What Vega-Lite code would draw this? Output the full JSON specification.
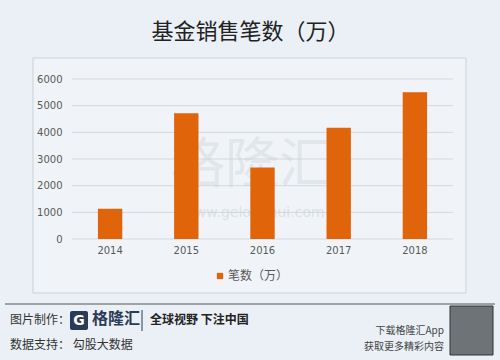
{
  "$schema": "https://vega.github.io/schema/vega-lite/v6.json",
  "width": 381,
  "height": 160,
  "autosize": {"type": "none"},
  "padding": {"left": 72, "top": 79, "right": 47, "bottom": 121},
  "background": "#EAF0F5",
  "config": {
    "view": {"stroke": null},
    "font": "Noto Sans CJK SC"
  },
  "title": {
    "text": "基金销售笔数（万）",
    "fontSize": 22,
    "fontWeight": "normal",
    "color": "#222222",
    "offset": 14,
    "dx": -12,
    "font": "Noto Sans CJK SC"
  },
  "layer": [
    {
      "data": {"values": [{}]},
      "mark": {"type": "rect", "fill": "#F0F4F8", "stroke": "#C9D1D9", "strokeWidth": 1, "clip": false},
      "encoding": {"x": {"value": -39}, "x2": {"value": 394}, "y": {"value": -21}, "y2": {"value": 214}}
    },
    {
      "data": {"values": [{"value": 0}, {"value": 1000}, {"value": 2000}, {"value": 3000}, {"value": 4000}, {"value": 5000}, {"value": 6000}]},
      "mark": {"type": "rule", "color": "#D3D8DD", "strokeWidth": 1},
      "encoding": {
        "y": {
          "field": "value",
          "type": "quantitative",
          "scale": {"domain": [0, 6000]},
          "axis": {"title": null, "values": [0, 1000, 2000, 3000, 4000, 5000, 6000], "format": "d", "labelOverlap": false, "domain": false, "ticks": false, "grid": false, "zindex": 1, "labelFontSize": 10, "labelColor": "#595959", "labelPadding": 10, "labelFont": "DejaVu Sans"}
        }
      }
    },
    {
      "data": {"values": [{}]},
      "mark": {"type": "text", "text": "格隆汇", "fontSize": 54, "color": "#CDD2D7", "opacity": 0.4, "align": "center", "baseline": "middle"},
      "encoding": {"x": {"value": 180}, "y": {"value": 88}}
    },
    {
      "data": {"values": [{}]},
      "mark": {"type": "text", "text": "www.gelonghui.com", "fontSize": 14, "color": "#CDD2D7", "opacity": 0.55, "align": "center", "baseline": "middle", "font": "DejaVu Sans"},
      "encoding": {"x": {"value": 182}, "y": {"value": 134}}
    },
    {
      "data": {"values": [
        {"year": "2014", "value": 1130},
        {"year": "2015", "value": 4720},
        {"year": "2016", "value": 2680},
        {"year": "2017", "value": 4170},
        {"year": "2018", "value": 5500}
      ]},
      "mark": {"type": "bar", "color": "#E0650A"},
      "encoding": {
        "x": {
          "field": "year",
          "type": "ordinal",
          "scale": {"paddingInner": 0.68, "paddingOuter": 0.34},
          "axis": {"title": null, "labelAngle": 0, "domain": false, "ticks": false, "grid": false, "zindex": 1, "labelFontSize": 10, "labelColor": "#595959", "labelPadding": 6, "labelFont": "DejaVu Sans"}
        },
        "y": {
          "field": "value",
          "type": "quantitative",
          "scale": {"domain": [0, 6000]},
          "axis": {"title": null, "values": [0, 1000, 2000, 3000, 4000, 5000, 6000], "format": "d", "labelOverlap": false, "domain": false, "ticks": false, "grid": false, "zindex": 1, "labelFontSize": 10, "labelColor": "#595959", "labelPadding": 10, "labelFont": "DejaVu Sans"}
        },
        "fill": {
          "datum": "笔数（万）",
          "type": "nominal",
          "scale": {"range": ["#E0650A"]},
          "legend": {"title": null, "orient": "none", "legendX": 142, "legendY": 191, "symbolType": "square", "symbolSize": 40, "labelFontSize": 12, "labelColor": "#595959", "symbolStrokeWidth": 0, "labelOffset": 2}
        }
      }
    },
    {
      "data": {"values": [{}]},
      "mark": {"type": "rule", "color": "#555555", "strokeWidth": 1},
      "encoding": {"x": {"value": -67}, "x2": {"value": 423}, "y": {"value": 225}}
    },
    {
      "data": {"values": [{}]},
      "mark": {"type": "text", "text": "图片制作：", "fontSize": 12, "color": "#333333", "align": "left", "baseline": "middle"},
      "encoding": {"x": {"value": -62}, "y": {"value": 241}}
    },
    {
      "data": {"values": [{}]},
      "mark": {"type": "rect", "fill": "#2B3B57", "cornerRadius": 2},
      "encoding": {"x": {"value": -2}, "x2": {"value": 16}, "y": {"value": 232}, "y2": {"value": 251}}
    },
    {
      "data": {"values": [{}]},
      "mark": {"type": "text", "text": "G", "fontSize": 14, "fontWeight": "bold", "color": "#FFFFFF", "align": "center", "baseline": "middle", "font": "DejaVu Sans"},
      "encoding": {"x": {"value": 7}, "y": {"value": 242}}
    },
    {
      "data": {"values": [{}]},
      "mark": {"type": "text", "text": "格隆汇", "fontSize": 16, "fontWeight": "bold", "color": "#2B3B57", "align": "left", "baseline": "middle"},
      "encoding": {"x": {"value": 20}, "y": {"value": 240}}
    },
    {
      "data": {"values": [{}]},
      "mark": {"type": "rule", "color": "#2B3B57", "strokeWidth": 1},
      "encoding": {"x": {"value": 70}, "y": {"value": 231}, "y2": {"value": 252}}
    },
    {
      "data": {"values": [{}]},
      "mark": {"type": "text", "text": "全球视野 下注中国", "fontSize": 12, "fontWeight": "bold", "color": "#222222", "align": "left", "baseline": "middle"},
      "encoding": {"x": {"value": 78}, "y": {"value": 241}}
    },
    {
      "data": {"values": [{}]},
      "mark": {"type": "text", "text": "数据支持：  勾股大数据", "fontSize": 12, "color": "#333333", "align": "left", "baseline": "middle"},
      "encoding": {"x": {"value": -62}, "y": {"value": 266}}
    },
    {
      "data": {"values": [{}]},
      "mark": {"type": "text", "text": "下载格隆汇App", "fontSize": 10, "color": "#444444", "align": "right", "baseline": "middle"},
      "encoding": {"x": {"value": 372}, "y": {"value": 252}}
    },
    {
      "data": {"values": [{}]},
      "mark": {"type": "text", "text": "获取更多精彩内容", "fontSize": 10, "color": "#444444", "align": "right", "baseline": "middle"},
      "encoding": {"x": {"value": 372}, "y": {"value": 268}}
    },
    {
      "data": {"values": [{}]},
      "mark": {"type": "rect", "fill": "#6E7378", "stroke": "#333333"},
      "encoding": {"x": {"value": 378}, "x2": {"value": 421}, "y": {"value": 227}, "y2": {"value": 276}}
    }
  ]
}
